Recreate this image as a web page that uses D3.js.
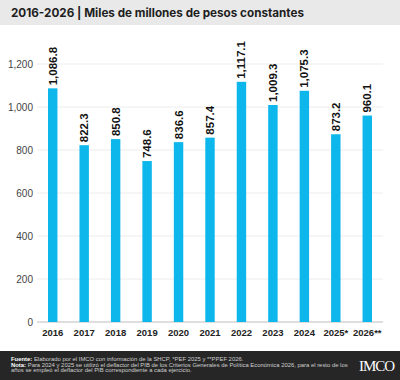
<html>
<head>
    <meta charset="utf-8">
    <title>Gasto 2016-2026</title>
</head>
<style>
    body { margin: 0; background: #fff; }
    text { font-family: "Liberation Sans", Arial, sans-serif; }
</style>
<body>
<svg width="400" height="380"></svg>
<script src="https://d3js.org/d3.v7.min.js" charset="utf-8"></script>
<script>

    var years = ['2016', '2017', '2018', '2019', '2020', '2021', '2022', '2023', '2024', '2025*', '2026**'];
    var values = [1086.8, 822.3, 850.8, 748.6, 836.6, 857.4, 1117.1, 1009.3, 1075.3, 873.2, 960.1];
    var yTicks = [0, 200, 400, 600, 800, 1000, 1200];

    var svg = d3.select('svg');

    // banda del titulo
    svg.append('rect').attr('x', 0).attr('y', 0).attr('width', 400).attr('height', 25).attr('fill', '#e9e9e9');
    svg.append('text')
        .attr('x', 11).attr('y', 17)
        .attr('font-size', '11.7px')
        .attr('font-weight', 'bold')
        .attr('fill', '#1e1e1e')
        .style('font-family', 'Inter, sans-serif')
        .text('2016-2026 | Miles de millones de pesos constantes');

    var x = d3.scaleBand().domain(years).range([37, 383]).paddingInner(0.7).paddingOuter(0.35);
    var y = d3.scaleLinear().domain([0, 1200]).range([322, 64]);

    // grid
    svg.append('g').selectAll('line').data(yTicks).enter().append('line')
        .attr('x1', 37).attr('x2', 383)
        .attr('y1', function (d) { return y(d); }).attr('y2', function (d) { return y(d); })
        .attr('stroke', function (d) { return d === 0 ? '#bdbdbd' : '#ececec'; })
        .attr('stroke-width', 1);

    var yAxis = svg.append('g').attr('transform', 'translate(33,0)')
        .call(d3.axisLeft(y).tickValues(yTicks).tickSize(0).tickPadding(0).tickFormat(d3.format(',')));
    yAxis.select('.domain').remove();
    yAxis.selectAll('text').attr('font-size', '10px').attr('fill', '#444').style('font-family', '"Liberation Sans", sans-serif');

    var xAxis = svg.append('g').attr('transform', 'translate(0,329)')
        .call(d3.axisBottom(x).tickSize(0).tickPadding(0));
    xAxis.select('.domain').remove();
    xAxis.selectAll('text').attr('font-size', '9.5px').attr('font-weight', 'bold').attr('fill', '#222')
        .style('font-family', '"Liberation Sans", sans-serif');

    svg.append('g').selectAll('rect').data(values).enter().append('rect')
        .attr('x', function (d, i) { return x(years[i]); })
        .attr('y', function (d) { return y(d); })
        .attr('width', x.bandwidth())
        .attr('height', function (d) { return y(0) - y(d); })
        .attr('fill', '#0db7ec');

    svg.append('g').selectAll('text').data(values).enter().append('text')
        .attr('transform', function (d, i) {
            return 'translate(' + (x(years[i]) + x.bandwidth() / 2 + 4) + ',' + (y(d) - 3) + ') rotate(-90)';
        })
        .attr('font-size', '11.5px')
        .attr('font-weight', 'bold')
        .attr('fill', '#111')
        .text(function (d) { return d3.format(',.1f')(d); });

    // pie de pagina
    svg.append('rect').attr('x', 0).attr('y', 351).attr('width', 400).attr('height', 29).attr('fill', '#262626');
    var notes = [
        ['Fuente:', ' Elaborado por el IMCO con información de la SHCP, *PEF 2025 y **PPEF 2026.'],
        ['Nota:', ' Para 2024 y 2025 se utilizó el deflactor del PIB de los Criterios Generales de Política Económica 2026, para el resto de los'],
        ['', 'años se empleó el deflactor del PIB correspondiente a cada ejercicio.']
    ];
    notes.forEach(function (n, i) {
        var t = svg.append('text').attr('x', 11).attr('y', 361 + i * 5.5)
            .attr('font-size', '5.9px').attr('fill', '#cfcfcf');
        t.append('tspan').attr('font-weight', 'bold').attr('fill', '#ffffff').text(n[0]);
        t.append('tspan').text(n[1]);
    });
    svg.append('text').attr('x', 359).attr('y', 371)
        .attr('font-size', '15px').attr('fill', '#fff')
        .style('font-family', '"Liberation Serif", serif')
        .attr('letter-spacing', '-1')
        .text('IMCO');

</script>
</body>
</html>
